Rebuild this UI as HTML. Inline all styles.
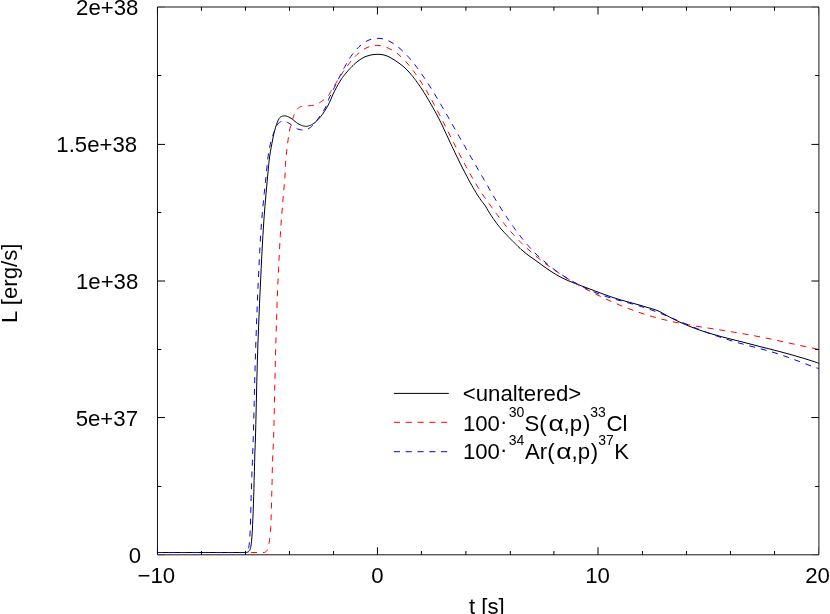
<!DOCTYPE html>
<html><head><meta charset="utf-8"><title>Luminosity</title>
<style>
html,body{margin:0;padding:0;background:#fff;}
body{width:830px;height:614px;overflow:hidden;}
svg{display:block;will-change:transform;opacity:0.999;}
text{font-family:"Liberation Sans",sans-serif;fill:#000;}
</style></head><body>
<svg width="830" height="614" viewBox="0 0 830 614">
<rect x="0" y="0" width="830" height="614" fill="#fff"/>
<!-- curves -->
<g fill="none" stroke-width="1" stroke-linejoin="round">
<path d="M157.5,552.5 L246.0,552.5 L246.9,552.3 L247.7,552.1 L248.4,551.8 L249.0,551.3 L249.6,550.6 L250.0,549.6 L250.3,548.6 L250.6,547.5 L250.9,546.2 L251.1,544.9 L251.3,543.5 L251.5,541.7 L251.9,537.0 L252.3,531.1 L252.6,524.6 L252.9,518.2 L253.2,511.2 L253.4,503.9 L253.7,496.5 L253.9,488.9 L254.1,480.3 L254.4,471.3 L254.6,462.6 L254.8,455.0 L254.9,451.1 L255.1,447.9 L255.2,444.4 L255.4,440.0 L255.8,424.4 L256.3,403.8 L256.8,381.3 L257.4,360.0 L258.0,341.0 L258.8,322.0 L259.5,303.3 L260.4,285.0 L261.2,268.2 L262.0,251.6 L262.9,235.5 L263.9,220.0 L264.9,206.6 L266.1,193.1 L267.2,181.0 L268.1,171.4 L268.4,168.0 L268.6,165.3 L268.9,162.8 L269.2,160.0 L269.7,156.1 L270.4,151.9 L271.1,147.7 L271.9,143.6 L272.6,140.0 L273.3,136.5 L274.0,133.1 L274.9,129.9 L275.6,127.2 L276.5,124.6 L277.3,122.2 L278.2,120.2 L278.8,119.1 L279.4,118.2 L280.1,117.4 L280.8,116.8 L281.6,116.4 L282.4,116.1 L283.3,116.0 L284.2,115.9 L285.0,115.9 L285.9,116.0 L286.7,116.2 L287.6,116.5 L288.7,117.0 L289.9,117.6 L291.0,118.3 L292.2,119.1 L293.6,120.2 L295.0,121.4 L296.5,122.6 L297.9,123.6 L299.1,124.3 L300.2,124.8 L301.4,125.3 L302.5,125.7 L303.5,126.0 L304.5,126.2 L305.5,126.3 L306.5,126.3 L307.5,126.2 L308.5,126.0 L309.5,125.6 L310.5,125.3 L311.6,124.7 L312.7,124.1 L313.9,123.3 L315.0,122.5 L316.4,121.2 L317.8,119.8 L319.3,118.2 L320.7,116.5 L322.5,114.3 L324.2,111.7 L325.9,109.0 L327.6,106.2 L329.4,102.6 L331.1,98.8 L332.7,94.9 L334.5,91.2 L336.3,87.8 L338.2,84.4 L340.0,81.3 L341.7,78.6 L342.6,77.4 L343.4,76.3 L344.2,75.3 L345.0,74.3 L346.0,73.1 L347.0,71.9 L348.0,70.7 L349.0,69.6 L350.0,68.5 L351.0,67.5 L352.0,66.4 L353.0,65.5 L354.0,64.5 L355.0,63.6 L356.0,62.7 L357.0,61.9 L358.0,61.1 L359.0,60.4 L360.0,59.7 L361.0,59.0 L362.0,58.4 L363.0,57.8 L364.0,57.3 L365.0,56.8 L366.0,56.4 L367.0,56.1 L368.0,55.8 L369.0,55.5 L370.0,55.2 L371.0,55.0 L372.0,54.8 L373.0,54.6 L374.0,54.5 L375.0,54.4 L376.0,54.4 L377.0,54.3 L378.0,54.3 L379.0,54.3 L380.0,54.4 L381.0,54.5 L382.0,54.6 L383.0,54.8 L384.0,55.0 L385.0,55.3 L386.0,55.6 L387.0,56.0 L388.0,56.4 L389.0,56.9 L390.0,57.4 L391.0,58.0 L392.0,58.6 L393.0,59.2 L394.0,59.8 L395.0,60.4 L396.0,61.1 L397.0,61.8 L398.0,62.5 L399.0,63.2 L400.0,63.9 L401.0,64.7 L402.0,65.4 L403.0,66.3 L404.0,67.1 L405.0,68.0 L406.0,69.0 L407.0,70.0 L408.0,71.0 L409.0,72.1 L410.0,73.2 L411.0,74.4 L412.0,75.6 L413.0,76.8 L414.0,78.1 L415.0,79.4 L416.0,80.7 L417.0,82.1 L418.0,83.5 L419.0,84.9 L420.0,86.4 L421.0,87.9 L422.0,89.4 L423.0,90.9 L424.0,92.5 L425.0,94.0 L426.0,95.7 L427.0,97.4 L428.0,99.1 L429.0,100.8 L430.0,102.5 L431.0,104.2 L432.0,106.0 L433.0,107.8 L434.0,109.6 L435.0,111.4 L436.0,113.2 L437.0,115.1 L438.0,117.0 L439.0,118.9 L440.0,120.9 L441.0,122.8 L442.0,124.9 L443.0,127.1 L444.0,129.2 L445.0,131.4 L446.0,133.5 L447.0,135.7 L448.0,137.8 L449.0,140.0 L450.0,142.1 L451.0,144.3 L452.0,146.4 L453.0,148.5 L454.0,150.6 L455.0,152.7 L456.0,154.8 L457.0,156.9 L458.0,158.9 L459.0,161.0 L460.0,163.0 L461.0,165.0 L462.0,167.0 L463.0,169.0 L464.0,170.9 L465.0,172.9 L466.0,174.8 L467.0,176.6 L468.0,178.5 L469.0,180.4 L470.0,182.2 L471.0,184.0 L472.0,185.7 L473.0,187.5 L474.0,189.2 L475.0,190.9 L476.0,192.6 L477.0,194.2 L478.0,195.8 L479.0,197.3 L480.0,198.8 L481.0,200.3 L482.0,201.6 L483.0,202.8 L484.0,204.1 L485.0,205.4 L486.0,207.0 L487.0,208.7 L488.0,210.4 L489.0,212.1 L490.0,213.7 L491.0,215.2 L492.0,216.7 L493.0,218.2 L494.0,219.6 L495.0,221.0 L496.0,222.4 L497.0,223.8 L498.0,225.1 L499.0,226.4 L500.0,227.6 L501.0,228.9 L502.0,230.0 L503.0,231.1 L504.0,232.2 L505.0,233.2 L506.0,234.3 L507.0,235.3 L508.0,236.4 L509.0,237.4 L510.0,238.5 L511.0,239.5 L512.0,240.5 L513.0,241.5 L514.0,242.5 L515.0,243.5 L516.0,244.5 L517.0,245.5 L518.0,246.5 L519.0,247.4 L520.0,248.3 L521.0,249.3 L522.0,250.1 L523.0,251.0 L524.0,251.8 L525.0,252.7 L526.0,253.5 L527.0,254.3 L528.0,255.0 L529.0,255.8 L530.0,256.5 L531.0,257.2 L532.0,257.9 L533.0,258.6 L534.0,259.3 L535.0,260.0 L536.0,260.7 L537.0,261.5 L538.0,262.2 L539.0,262.9 L540.0,263.6 L541.0,264.4 L542.0,265.1 L543.0,265.9 L544.0,266.6 L545.0,267.3 L546.0,268.0 L547.0,268.7 L548.0,269.4 L549.0,270.0 L550.0,270.7 L551.0,271.4 L552.0,272.0 L553.0,272.7 L554.0,273.3 L555.0,273.9 L556.0,274.5 L557.0,275.1 L558.0,275.6 L559.0,276.2 L560.0,276.7 L561.0,277.3 L562.0,277.8 L563.0,278.3 L564.0,278.8 L565.0,279.2 L566.0,279.7 L567.0,280.1 L568.0,280.6 L569.0,281.0 L570.0,281.4 L571.0,281.8 L572.0,282.2 L573.0,282.6 L574.0,283.0 L575.0,283.4 L576.0,283.8 L577.0,284.2 L578.0,284.5 L579.0,284.9 L580.0,285.3 L581.0,285.7 L582.0,286.1 L583.0,286.4 L584.0,286.8 L585.0,287.2 L586.0,287.6 L587.0,287.9 L588.0,288.3 L589.0,288.7 L590.0,289.1 L591.0,289.5 L592.0,289.8 L593.0,290.2 L594.0,290.6 L595.0,291.0 L596.0,291.4 L597.0,291.7 L598.0,292.1 L599.0,292.5 L600.0,292.9 L601.0,293.2 L602.0,293.6 L603.0,294.0 L604.0,294.4 L605.0,294.7 L606.0,295.1 L607.0,295.4 L608.0,295.8 L609.0,296.1 L610.0,296.5 L611.0,296.8 L612.0,297.2 L613.0,297.5 L614.0,297.8 L615.0,298.1 L616.0,298.4 L617.0,298.8 L618.0,299.1 L619.0,299.4 L620.0,299.7 L621.0,300.0 L622.0,300.3 L623.0,300.5 L624.0,300.8 L625.0,301.1 L626.0,301.4 L627.0,301.7 L628.0,301.9 L629.0,302.2 L630.0,302.5 L631.0,302.7 L632.0,303.0 L633.0,303.3 L634.0,303.6 L635.0,303.8 L636.0,304.1 L637.0,304.4 L638.0,304.7 L639.0,304.9 L640.0,305.2 L641.0,305.5 L642.0,305.8 L643.0,306.1 L644.0,306.4 L645.0,306.7 L646.0,307.0 L647.0,307.3 L648.0,307.6 L649.0,307.9 L650.0,308.1 L651.0,308.5 L652.0,308.8 L653.0,309.1 L654.0,309.4 L655.0,309.7 L656.0,310.1 L657.0,310.4 L658.0,310.9 L659.0,311.3 L660.0,311.8 L661.0,312.3 L662.0,312.9 L663.0,313.4 L664.0,314.0 L665.0,314.5 L666.0,315.1 L667.0,315.6 L668.0,316.2 L669.0,316.7 L670.0,317.3 L671.0,317.8 L672.0,318.3 L673.0,318.8 L674.0,319.3 L675.0,319.8 L676.0,320.3 L677.0,320.7 L678.0,321.2 L679.0,321.7 L680.0,322.2 L681.0,322.6 L682.0,323.1 L683.0,323.5 L684.0,324.0 L685.0,324.4 L686.0,324.8 L687.0,325.3 L688.0,325.7 L689.0,326.1 L690.0,326.5 L691.0,326.9 L692.0,327.3 L693.0,327.7 L694.0,328.0 L695.0,328.4 L696.0,328.8 L697.0,329.1 L698.0,329.5 L699.0,329.8 L700.0,330.2 L701.0,330.5 L702.0,330.9 L703.0,331.2 L704.0,331.5 L705.0,331.8 L706.0,332.2 L707.0,332.5 L708.0,332.8 L709.0,333.1 L710.0,333.4 L711.0,333.7 L712.0,334.0 L713.0,334.3 L714.0,334.6 L715.0,334.9 L716.0,335.1 L717.0,335.4 L718.0,335.7 L719.0,336.0 L720.0,336.3 L721.0,336.5 L722.0,336.8 L723.0,337.1 L724.0,337.3 L725.0,337.6 L726.0,337.8 L727.0,338.1 L728.0,338.4 L729.0,338.6 L730.0,338.9 L731.0,339.1 L732.0,339.4 L733.0,339.6 L734.0,339.9 L735.0,340.1 L736.0,340.4 L737.0,340.6 L738.0,340.9 L739.0,341.1 L740.0,341.4 L741.0,341.6 L742.0,341.9 L743.0,342.1 L744.0,342.4 L745.0,342.7 L746.0,342.9 L747.0,343.2 L748.0,343.4 L749.0,343.7 L750.0,344.0 L751.0,344.2 L752.0,344.5 L753.0,344.7 L754.0,345.0 L755.0,345.3 L756.0,345.5 L757.0,345.8 L758.0,346.1 L759.0,346.3 L760.0,346.6 L761.0,346.8 L762.0,347.1 L763.0,347.3 L764.0,347.6 L765.0,347.8 L766.0,348.1 L767.0,348.3 L768.0,348.6 L769.0,348.8 L770.0,349.1 L771.0,349.3 L772.0,349.6 L773.0,349.9 L774.0,350.1 L775.0,350.4 L776.0,350.6 L777.0,350.9 L778.0,351.1 L779.0,351.4 L780.0,351.7 L781.0,351.9 L782.0,352.2 L783.0,352.5 L784.0,352.7 L785.0,353.0 L786.0,353.3 L787.0,353.5 L788.0,353.8 L789.0,354.1 L790.0,354.4 L791.0,354.7 L792.0,354.9 L793.0,355.2 L794.0,355.5 L795.0,355.8 L796.0,356.1 L797.0,356.4 L798.0,356.7 L799.0,357.0 L800.0,357.3 L801.0,357.6 L802.0,357.8 L803.0,358.1 L804.0,358.4 L805.0,358.8 L806.0,359.1 L807.0,359.4 L808.0,359.7 L809.0,360.0 L810.0,360.3 L811.0,360.6 L812.0,361.0 L813.0,361.3 L814.0,361.6 L815.1,362.0 L816.1,362.3 L817.0,362.6 L817.5,362.8 L818.0,362.9 L818.4,363.1 L818.9,363.2" stroke="#000"/>
<path d="M157.5,552.5 L264.2,552.5 L265.0,552.2 L265.6,551.9 L266.1,551.5 L266.6,551.0 L267.1,550.3 L267.5,549.6 L267.8,548.7 L268.1,547.6 L268.7,545.2 L269.2,542.4 L269.7,539.2 L270.1,535.9 L270.5,531.8 L270.7,527.6 L270.9,523.0 L271.1,518.2 L271.3,511.4 L271.5,504.0 L271.7,496.4 L271.9,488.9 L272.1,481.4 L272.2,473.9 L272.4,466.5 L272.6,459.6 L272.8,454.7 L273.0,450.4 L273.3,445.7 L273.5,440.0 L274.0,423.7 L274.4,403.2 L274.9,381.1 L275.4,360.0 L275.9,341.0 L276.5,322.0 L277.1,303.3 L277.8,285.0 L278.6,268.2 L279.4,251.6 L280.3,235.5 L281.3,220.0 L282.4,206.6 L283.5,193.1 L284.6,181.0 L285.3,171.4 L285.5,168.0 L285.5,165.3 L285.6,162.8 L285.8,160.0 L286.1,156.1 L286.6,151.9 L287.1,147.7 L287.6,143.6 L288.1,139.8 L288.6,136.0 L289.2,132.3 L289.9,128.8 L290.6,125.9 L291.4,123.1 L292.2,120.4 L293.0,118.0 L293.6,116.4 L294.1,114.8 L294.7,113.5 L295.3,112.2 L295.8,111.3 L296.3,110.6 L296.8,109.9 L297.3,109.2 L297.8,108.6 L298.4,108.0 L299.0,107.5 L299.7,107.1 L300.6,106.7 L301.5,106.5 L302.5,106.3 L303.5,106.1 L304.7,106.0 L306.0,105.9 L307.3,105.9 L308.6,105.8 L310.0,105.7 L311.5,105.5 L312.9,105.3 L314.3,105.0 L315.6,104.6 L316.8,104.1 L318.1,103.5 L319.3,102.9 L320.6,102.1 L321.9,101.2 L323.2,100.3 L324.4,99.3 L325.5,98.4 L326.6,97.4 L327.7,96.4 L328.6,95.3 L329.4,94.1 L330.1,92.9 L330.8,91.5 L331.6,90.1 L332.9,88.0 L334.3,85.7 L335.8,83.3 L337.3,80.9 L338.8,78.5 L340.4,76.0 L341.9,73.7 L343.1,71.8 L343.6,71.0 L344.1,70.4 L344.5,69.8 L345.0,69.1 L345.9,67.9 L346.9,66.5 L348.0,65.0 L349.0,63.6 L350.0,62.3 L351.0,61.1 L352.0,59.9 L353.0,58.7 L354.0,57.6 L355.0,56.6 L356.0,55.5 L357.0,54.5 L358.0,53.7 L359.0,52.8 L360.0,52.0 L361.0,51.2 L362.0,50.5 L363.0,49.8 L364.0,49.2 L365.0,48.6 L366.0,48.1 L367.0,47.6 L368.0,47.2 L369.0,46.8 L370.0,46.5 L371.0,46.2 L372.0,45.9 L373.0,45.7 L374.0,45.6 L375.0,45.5 L376.0,45.4 L377.0,45.4 L378.0,45.4 L379.0,45.5 L380.0,45.6 L381.0,45.8 L382.0,46.0 L383.0,46.2 L384.0,46.5 L385.0,46.8 L386.0,47.2 L387.0,47.6 L388.0,48.0 L389.0,48.5 L390.0,49.0 L391.0,49.5 L392.0,50.0 L393.0,50.5 L394.0,51.2 L395.0,51.8 L396.0,52.5 L397.0,53.2 L398.0,54.0 L399.0,54.9 L400.0,55.8 L401.0,56.7 L402.0,57.7 L403.0,58.7 L404.0,59.7 L405.0,60.7 L406.0,61.8 L407.0,63.0 L408.0,64.1 L409.0,65.3 L410.0,66.5 L411.0,67.8 L412.0,69.1 L413.0,70.4 L414.0,71.7 L415.0,73.1 L416.0,74.5 L417.0,75.9 L418.0,77.4 L419.0,78.9 L420.0,80.4 L421.0,82.0 L422.0,83.6 L423.0,85.2 L424.0,86.8 L425.0,88.4 L426.0,90.1 L427.0,91.8 L428.0,93.5 L429.0,95.3 L430.0,97.1 L431.0,98.8 L432.0,100.6 L433.0,102.5 L434.0,104.3 L435.0,106.2 L436.0,108.1 L437.0,109.9 L438.0,111.9 L439.0,113.8 L440.0,115.7 L441.0,117.7 L442.0,119.6 L443.0,121.6 L444.0,123.5 L445.0,125.5 L446.0,127.5 L447.0,129.5 L448.0,131.5 L449.0,133.5 L450.0,135.4 L451.0,137.4 L452.0,139.4 L453.0,141.4 L454.0,143.4 L455.0,145.3 L456.0,147.3 L457.0,149.3 L458.0,151.2 L459.0,153.1 L460.0,155.1 L461.0,157.0 L462.0,158.9 L463.0,160.8 L464.0,162.7 L465.0,164.6 L466.0,166.4 L467.0,168.2 L468.0,170.1 L469.0,171.9 L470.0,173.7 L471.0,175.4 L472.0,177.2 L473.0,178.9 L474.0,180.6 L475.0,182.4 L476.0,184.0 L477.0,185.7 L478.0,187.3 L479.0,188.9 L480.0,190.5 L481.0,192.1 L482.0,193.6 L483.0,195.0 L484.0,196.5 L485.0,197.9 L486.0,199.3 L487.0,200.7 L488.0,202.1 L489.0,203.5 L490.0,204.9 L491.0,206.3 L492.0,207.7 L493.0,209.1 L494.0,210.5 L495.0,211.8 L496.0,213.2 L497.0,214.5 L498.0,215.8 L499.0,217.1 L500.0,218.4 L501.0,219.7 L502.0,221.0 L503.0,222.3 L504.0,223.5 L505.0,224.8 L506.0,226.0 L507.0,227.2 L508.0,228.4 L509.0,229.6 L510.0,230.7 L511.0,231.9 L512.0,233.0 L513.0,234.1 L514.0,235.2 L515.0,236.3 L516.0,237.4 L517.0,238.5 L518.0,239.5 L519.0,240.6 L520.0,241.6 L521.0,242.6 L522.0,243.6 L523.0,244.6 L524.0,245.5 L525.0,246.5 L526.0,247.4 L527.0,248.3 L528.0,249.2 L529.0,250.1 L530.0,251.0 L531.0,251.9 L532.0,252.8 L533.0,253.6 L534.0,254.5 L535.0,255.3 L536.0,256.2 L537.0,257.0 L538.0,257.8 L539.0,258.6 L540.0,259.4 L541.0,260.2 L542.0,261.0 L543.0,261.8 L544.0,262.6 L545.0,263.3 L546.0,264.1 L547.0,264.8 L548.0,265.5 L549.0,266.3 L550.0,267.0 L551.0,267.7 L552.0,268.4 L553.0,269.1 L554.0,269.8 L555.0,270.5 L556.0,271.2 L557.0,271.9 L558.0,272.5 L559.0,273.2 L560.0,273.9 L561.0,274.5 L562.0,275.1 L563.0,275.8 L564.0,276.4 L565.0,277.0 L566.0,277.7 L567.0,278.3 L568.0,278.9 L569.0,279.5 L570.0,280.1 L571.0,280.7 L572.0,281.3 L573.0,281.9 L574.0,282.5 L575.0,283.1 L576.0,283.6 L577.0,284.2 L578.0,284.8 L579.0,285.3 L580.0,285.9 L581.0,286.4 L582.0,287.0 L583.0,287.5 L584.0,288.1 L585.0,288.6 L586.0,289.1 L587.0,289.7 L588.0,290.2 L589.0,290.7 L590.0,291.2 L591.0,291.7 L592.0,292.3 L593.0,292.8 L594.0,293.3 L595.0,293.8 L596.0,294.3 L597.0,294.8 L598.0,295.2 L599.0,295.7 L600.0,296.2 L601.0,296.7 L602.0,297.2 L603.0,297.6 L604.0,298.1 L605.0,298.6 L606.0,299.0 L607.0,299.5 L608.0,300.0 L609.0,300.4 L610.0,300.9 L611.0,301.3 L612.0,301.8 L613.0,302.2 L614.0,302.6 L615.0,303.1 L616.0,303.5 L617.0,303.9 L618.0,304.3 L619.0,304.8 L620.0,305.2 L621.0,305.6 L622.0,306.0 L623.0,306.4 L624.0,306.8 L625.0,307.2 L626.0,307.6 L627.0,308.0 L628.0,308.4 L629.0,308.8 L630.0,309.1 L631.0,309.5 L632.0,309.9 L633.0,310.2 L634.0,310.6 L635.0,311.0 L636.0,311.3 L637.0,311.7 L638.0,312.0 L639.0,312.4 L640.0,312.7 L641.0,313.0 L642.0,313.4 L643.0,313.7 L644.0,314.0 L645.0,314.3 L646.0,314.7 L647.0,315.0 L648.0,315.3 L649.0,315.6 L650.0,315.9 L651.0,316.2 L652.0,316.5 L653.0,316.8 L654.0,317.0 L655.0,317.3 L656.0,317.6 L657.0,317.9 L658.0,318.1 L659.0,318.4 L660.0,318.7 L661.0,318.9 L662.0,319.2 L663.0,319.4 L664.0,319.7 L665.0,319.9 L666.0,320.2 L667.0,320.4 L668.0,320.6 L669.0,320.9 L670.0,321.1 L671.0,321.3 L672.0,321.5 L673.0,321.8 L674.0,322.0 L675.0,322.2 L676.0,322.4 L677.0,322.6 L678.0,322.8 L679.0,323.0 L680.0,323.2 L681.0,323.4 L682.0,323.6 L683.0,323.8 L684.0,324.0 L685.0,324.2 L686.0,324.3 L687.0,324.5 L688.0,324.7 L689.0,324.9 L690.0,325.1 L691.0,325.2 L692.0,325.4 L693.0,325.6 L694.0,325.7 L695.0,325.9 L696.0,326.1 L697.0,326.3 L698.0,326.4 L699.0,326.6 L700.0,326.7 L701.0,326.9 L702.0,327.1 L703.0,327.2 L704.0,327.4 L705.0,327.5 L706.0,327.7 L707.0,327.9 L708.0,328.0 L709.0,328.2 L710.0,328.3 L711.0,328.5 L712.0,328.6 L713.0,328.8 L714.0,329.0 L715.0,329.1 L716.0,329.3 L717.0,329.4 L718.0,329.6 L719.0,329.7 L720.0,329.9 L721.0,330.1 L722.0,330.2 L723.0,330.4 L724.0,330.5 L725.0,330.7 L726.0,330.9 L727.0,331.0 L728.0,331.2 L729.0,331.4 L730.0,331.5 L731.0,331.7 L732.0,331.8 L733.0,332.0 L734.0,332.2 L735.0,332.3 L736.0,332.5 L737.0,332.7 L738.0,332.9 L739.0,333.0 L740.0,333.2 L741.0,333.4 L742.0,333.6 L743.0,333.7 L744.0,333.9 L745.0,334.1 L746.0,334.3 L747.0,334.4 L748.0,334.6 L749.0,334.8 L750.0,335.0 L751.0,335.2 L752.0,335.4 L753.0,335.6 L754.0,335.7 L755.0,335.9 L756.0,336.1 L757.0,336.3 L758.0,336.5 L759.0,336.7 L760.0,336.9 L761.0,337.1 L762.0,337.3 L763.0,337.5 L764.0,337.7 L765.0,337.9 L766.0,338.1 L767.0,338.3 L768.0,338.5 L769.0,338.7 L770.0,338.9 L771.0,339.1 L772.0,339.3 L773.0,339.6 L774.0,339.8 L775.0,340.0 L776.0,340.2 L777.0,340.4 L778.0,340.6 L779.0,340.8 L780.0,341.0 L781.0,341.3 L782.0,341.5 L783.0,341.7 L784.0,341.9 L785.0,342.1 L786.0,342.4 L787.0,342.6 L788.0,342.8 L789.0,343.0 L790.0,343.2 L791.0,343.5 L792.0,343.7 L793.0,343.9 L794.0,344.1 L795.0,344.3 L796.0,344.6 L797.0,344.8 L798.0,345.0 L799.0,345.2 L800.0,345.4 L801.0,345.7 L802.0,345.9 L803.0,346.1 L804.0,346.3 L805.0,346.5 L806.0,346.7 L807.0,347.0 L808.0,347.2 L809.0,347.4 L810.0,347.6 L811.0,347.8 L812.0,348.0 L813.0,348.2 L814.0,348.4 L815.1,348.6 L816.1,348.9 L817.0,349.0 L817.5,349.1 L818.0,349.2 L818.4,349.3 L818.9,349.4" stroke="#ff0000" stroke-dasharray="6 5.8" stroke-dashoffset="0.8"/>
<path d="M157.5,552.5 L245.6,552.5 L246.3,552.2 L246.9,551.7 L247.4,551.1 L247.8,550.5 L248.2,549.5 L248.5,548.4 L248.8,547.1 L249.0,545.6 L249.4,542.8 L249.6,539.6 L249.9,536.0 L250.1,532.0 L250.4,524.7 L250.7,516.1 L250.9,507.2 L251.1,498.7 L251.3,491.2 L251.6,483.9 L251.8,476.6 L252.1,469.3 L252.4,462.3 L252.6,455.5 L252.9,448.3 L253.2,440.0 L253.7,422.7 L254.2,402.3 L254.7,380.7 L255.3,360.0 L255.9,341.0 L256.6,322.0 L257.3,303.3 L258.1,285.0 L258.9,268.2 L259.7,251.6 L260.6,235.5 L261.7,220.0 L262.9,206.7 L264.2,193.6 L265.5,181.6 L266.5,171.4 L267.0,166.7 L267.4,162.6 L267.8,158.8 L268.3,155.0 L268.8,151.4 L269.5,148.0 L270.2,144.6 L271.0,141.3 L271.9,138.3 L272.8,135.4 L273.8,132.6 L274.9,130.0 L275.6,128.2 L276.4,126.4 L277.2,124.9 L278.2,123.6 L279.3,122.6 L280.5,121.8 L281.8,121.3 L283.1,121.0 L284.5,121.1 L286.0,121.6 L287.4,122.4 L288.8,123.1 L290.0,123.9 L291.1,124.8 L292.1,125.7 L293.3,126.5 L294.7,127.3 L296.1,128.1 L297.5,128.9 L299.0,129.4 L300.4,129.7 L301.9,130.0 L303.4,130.0 L304.8,129.9 L306.3,129.5 L307.7,129.0 L309.2,128.3 L310.5,127.4 L311.7,126.5 L312.8,125.3 L313.9,124.1 L315.0,122.8 L316.4,121.0 L317.9,119.0 L319.3,117.0 L320.7,114.9 L322.2,112.7 L323.8,110.3 L325.2,108.0 L326.4,105.7 L327.1,104.1 L327.6,102.5 L328.1,101.0 L328.7,99.2 L329.9,96.5 L331.4,93.5 L332.9,90.3 L334.5,87.2 L336.3,83.4 L338.2,79.5 L340.1,75.8 L341.7,72.5 L342.6,70.8 L343.4,69.2 L344.2,67.8 L345.0,66.3 L346.0,64.5 L347.0,62.8 L348.0,61.0 L349.0,59.3 L350.0,57.8 L351.0,56.3 L352.0,54.9 L353.0,53.5 L354.0,52.2 L355.0,51.1 L356.0,49.9 L357.0,48.8 L358.0,47.8 L359.0,46.8 L360.0,45.9 L361.0,45.0 L362.0,44.2 L363.0,43.4 L364.0,42.7 L365.0,42.1 L366.0,41.5 L367.0,40.9 L368.0,40.5 L369.0,40.0 L370.0,39.6 L371.0,39.3 L372.0,39.0 L373.0,38.8 L374.0,38.6 L375.0,38.4 L376.0,38.3 L377.0,38.3 L378.0,38.3 L379.0,38.3 L380.0,38.4 L381.0,38.5 L382.0,38.7 L383.0,38.9 L384.0,39.2 L385.0,39.5 L386.0,39.8 L387.0,40.2 L388.0,40.6 L389.0,41.1 L390.0,41.6 L391.0,42.1 L392.0,42.7 L393.0,43.3 L394.0,44.0 L395.0,44.6 L396.0,45.4 L397.0,46.1 L398.0,46.9 L399.0,47.7 L400.0,48.6 L401.0,49.5 L402.0,50.4 L403.0,51.3 L404.0,52.3 L405.0,53.3 L406.0,54.4 L407.0,55.4 L408.0,56.5 L409.0,57.6 L410.0,58.8 L411.0,60.0 L412.0,61.2 L413.0,62.4 L414.0,63.7 L415.0,64.9 L416.0,66.2 L417.0,67.5 L418.0,68.9 L419.0,70.3 L420.0,71.7 L421.0,73.1 L422.0,74.5 L423.0,76.0 L424.0,77.4 L425.0,78.9 L426.0,80.4 L427.0,81.9 L428.0,83.5 L429.0,85.0 L430.0,86.6 L431.0,88.2 L432.0,89.8 L433.0,91.4 L434.0,93.0 L435.0,94.7 L436.0,96.3 L437.0,98.0 L438.0,99.7 L439.0,101.4 L440.0,103.1 L441.0,104.8 L442.0,106.5 L443.0,108.2 L444.0,109.9 L445.0,111.7 L446.0,113.4 L447.0,115.1 L448.0,116.9 L449.0,118.6 L450.0,120.4 L451.0,122.1 L452.0,123.9 L453.0,125.7 L454.0,127.4 L455.0,129.2 L456.0,130.9 L457.0,132.7 L458.0,134.4 L459.0,136.2 L460.0,138.0 L461.0,139.7 L462.0,141.5 L463.0,143.2 L464.0,145.0 L465.0,146.7 L466.0,148.5 L467.0,150.2 L468.0,152.0 L469.0,153.7 L470.0,155.4 L471.0,157.2 L472.0,158.9 L473.0,160.6 L474.0,162.4 L475.0,164.1 L476.0,165.8 L477.0,167.6 L478.0,169.3 L479.0,171.0 L480.0,172.7 L481.0,174.5 L482.0,176.2 L483.0,177.9 L484.0,179.6 L485.0,181.3 L486.0,183.1 L487.0,184.8 L488.0,186.6 L489.0,188.4 L490.0,190.1 L491.0,191.9 L492.0,193.6 L493.0,195.4 L494.0,197.0 L495.0,198.7 L496.0,200.4 L497.0,202.1 L498.0,203.7 L499.0,205.3 L500.0,206.9 L501.0,208.4 L502.0,210.0 L503.0,211.6 L504.0,213.1 L505.0,214.6 L506.0,216.1 L507.0,217.6 L508.0,219.1 L509.0,220.6 L510.0,222.1 L511.0,223.5 L512.0,224.9 L513.0,226.3 L514.0,227.7 L515.0,229.1 L516.0,230.5 L517.0,231.8 L518.0,233.1 L519.0,234.4 L520.0,235.7 L521.0,237.0 L522.0,238.3 L523.0,239.5 L524.0,240.7 L525.0,241.9 L526.0,243.1 L527.0,244.3 L528.0,245.4 L529.0,246.6 L530.0,247.7 L531.0,248.8 L532.0,249.9 L533.0,250.9 L534.0,252.0 L535.0,253.0 L536.0,254.0 L537.0,254.9 L538.0,255.9 L539.0,256.8 L540.0,257.7 L541.0,258.6 L542.0,259.5 L543.0,260.3 L544.0,261.2 L545.0,262.0 L546.0,262.9 L547.0,263.7 L548.0,264.6 L549.0,265.4 L550.0,266.2 L551.0,267.0 L552.0,267.8 L553.0,268.5 L554.0,269.3 L555.0,270.0 L556.0,270.7 L557.0,271.5 L558.0,272.2 L559.0,272.9 L560.0,273.6 L561.0,274.2 L562.0,274.9 L563.0,275.5 L564.0,276.2 L565.0,276.8 L566.0,277.5 L567.0,278.1 L568.0,278.7 L569.0,279.3 L570.0,279.9 L571.0,280.5 L572.0,281.0 L573.0,281.6 L574.0,282.2 L575.0,282.7 L576.0,283.3 L577.0,283.8 L578.0,284.3 L579.0,284.9 L580.0,285.4 L581.0,285.9 L582.0,286.4 L583.0,286.9 L584.0,287.4 L585.0,287.9 L586.0,288.4 L587.0,288.8 L588.0,289.3 L589.0,289.8 L590.0,290.2 L591.0,290.6 L592.0,291.1 L593.0,291.5 L594.0,291.9 L595.0,292.4 L596.0,292.8 L597.0,293.2 L598.0,293.6 L599.0,293.9 L600.0,294.3 L601.0,294.7 L602.0,295.1 L603.0,295.4 L604.0,295.8 L605.0,296.1 L606.0,296.5 L607.0,296.8 L608.0,297.1 L609.0,297.4 L610.0,297.7 L611.0,298.1 L612.0,298.4 L613.0,298.7 L614.0,298.9 L615.0,299.2 L616.0,299.5 L617.0,299.8 L618.0,300.1 L619.0,300.4 L620.0,300.6 L621.0,300.9 L622.0,301.2 L623.0,301.4 L624.0,301.7 L625.0,302.0 L626.0,302.2 L627.0,302.5 L628.0,302.8 L629.0,303.0 L630.0,303.3 L631.0,303.6 L632.0,303.9 L633.0,304.1 L634.0,304.4 L635.0,304.7 L636.0,305.0 L637.0,305.3 L638.0,305.6 L639.0,305.9 L640.0,306.2 L641.0,306.5 L642.0,306.8 L643.0,307.1 L644.0,307.4 L645.0,307.7 L646.0,308.1 L647.0,308.4 L648.0,308.8 L649.0,309.1 L650.0,309.4 L651.0,309.8 L652.0,310.2 L653.0,310.5 L654.0,310.9 L655.0,311.3 L656.0,311.6 L657.0,312.0 L658.0,312.4 L659.0,312.8 L660.0,313.2 L661.0,313.6 L662.0,314.0 L663.0,314.4 L664.0,314.8 L665.0,315.2 L666.0,315.6 L667.0,316.0 L668.0,316.4 L669.0,316.8 L670.0,317.2 L671.0,317.7 L672.0,318.1 L673.0,318.5 L674.0,318.9 L675.0,319.3 L676.0,319.8 L677.0,320.2 L678.0,320.6 L679.0,321.0 L680.0,321.5 L681.0,321.9 L682.0,322.3 L683.0,322.7 L684.0,323.2 L685.0,323.6 L686.0,324.0 L687.0,324.4 L688.0,324.9 L689.0,325.3 L690.0,325.7 L691.0,326.1 L692.0,326.5 L693.0,326.9 L694.0,327.4 L695.0,327.8 L696.0,328.2 L697.0,328.6 L698.0,329.0 L699.0,329.4 L700.0,329.8 L701.0,330.2 L702.0,330.6 L703.0,331.0 L704.0,331.3 L705.0,331.7 L706.0,332.1 L707.0,332.5 L708.0,332.9 L709.0,333.2 L710.0,333.6 L711.0,334.0 L712.0,334.3 L713.0,334.7 L714.0,335.1 L715.0,335.4 L716.0,335.8 L717.0,336.1 L718.0,336.4 L719.0,336.8 L720.0,337.1 L721.0,337.5 L722.0,337.8 L723.0,338.1 L724.0,338.4 L725.0,338.8 L726.0,339.1 L727.0,339.4 L728.0,339.7 L729.0,340.0 L730.0,340.3 L731.0,340.6 L732.0,340.9 L733.0,341.2 L734.0,341.5 L735.0,341.8 L736.0,342.1 L737.0,342.4 L738.0,342.7 L739.0,343.0 L740.0,343.3 L741.0,343.5 L742.0,343.8 L743.0,344.1 L744.0,344.4 L745.0,344.6 L746.0,344.9 L747.0,345.2 L748.0,345.4 L749.0,345.7 L750.0,346.0 L751.0,346.2 L752.0,346.5 L753.0,346.8 L754.0,347.0 L755.0,347.3 L756.0,347.6 L757.0,347.8 L758.0,348.1 L759.0,348.4 L760.0,348.6 L761.0,348.9 L762.0,349.2 L763.0,349.5 L764.0,349.7 L765.0,350.0 L766.0,350.3 L767.0,350.6 L768.0,350.9 L769.0,351.1 L770.0,351.4 L771.0,351.7 L772.0,352.0 L773.0,352.3 L774.0,352.6 L775.0,352.9 L776.0,353.2 L777.0,353.5 L778.0,353.9 L779.0,354.2 L780.0,354.5 L781.0,354.8 L782.0,355.2 L783.0,355.5 L784.0,355.9 L785.0,356.2 L786.0,356.6 L787.0,356.9 L788.0,357.3 L789.0,357.7 L790.0,358.0 L791.0,358.4 L792.0,358.8 L793.0,359.1 L794.0,359.5 L795.0,359.9 L796.0,360.3 L797.0,360.6 L798.0,361.0 L799.0,361.4 L800.0,361.8 L801.0,362.1 L802.0,362.5 L803.0,362.9 L804.0,363.3 L805.0,363.7 L806.0,364.0 L807.0,364.4 L808.0,364.8 L809.0,365.2 L810.0,365.5 L811.0,365.9 L812.0,366.2 L813.0,366.6 L814.0,367.0 L815.1,367.3 L816.1,367.7 L817.0,368.0 L817.5,368.1 L818.0,368.3 L818.4,368.4 L818.9,368.6" stroke="#0000ff" stroke-dasharray="6 5.8" stroke-dashoffset="0.8"/>
</g>
<!-- frame + ticks -->
<g fill="none" stroke="#000" stroke-width="1">
<path d="M157.5,7.0 H818.9 V554.8 H157.5 Z" stroke-width="0.92"/>
<path d="M201.45,554.8 v-3.8 M201.45,7.0 v3.8 M245.45,554.8 v-3.8 M245.45,7.0 v3.8 M289.50,554.8 v-3.8 M289.50,7.0 v3.8 M333.50,554.8 v-3.8 M333.50,7.0 v3.8 M377.45,554.8 v-7.5 M377.45,7.0 v7.5 M421.40,554.8 v-3.8 M421.40,7.0 v3.8 M465.90,554.8 v-3.8 M465.90,7.0 v3.8 M510.30,554.8 v-3.8 M510.30,7.0 v3.8 M553.90,554.8 v-3.8 M553.90,7.0 v3.8 M598.00,554.8 v-7.5 M598.00,7.0 v7.5 M642.45,554.8 v-3.8 M642.45,7.0 v3.8 M686.45,554.8 v-3.8 M686.45,7.0 v3.8 M730.50,554.8 v-3.8 M730.50,7.0 v3.8 M774.50,554.8 v-3.8 M774.50,7.0 v3.8 M157.5,486.45 h3.8 M818.9,486.45 h-3.8 M157.5,417.55 h7.5 M818.9,417.55 h-7.5 M157.5,349.50 h3.8 M818.9,349.50 h-3.8 M157.5,281.00 h7.5 M818.9,281.00 h-7.5 M157.5,212.45 h3.8 M818.9,212.45 h-3.8 M157.5,144.40 h7.5 M818.9,144.40 h-7.5 M157.5,75.50 h3.8 M818.9,75.50 h-3.8"/>
<path d="M157.30,554.8 v-7.5 M157.30,7.0 v7.5 M818.60,554.8 v-7.5 M818.60,7.0 v7.5 M157.5,554.80 h7.5 M818.9,554.80 h-7.5 M157.5,7.00 h7.5 M818.9,7.00 h-7.5" stroke-opacity="0.3"/>
</g>
<!-- y tick labels -->
<g font-size="22.2" text-anchor="end">
<text x="138.4" y="14.9">2e+38</text>
<text x="137.2" y="151.9">1.5e+38</text>
<text x="138.3" y="288.6">1e+38</text>
<text x="138" y="425.6">5e+37</text>
<text x="141.1" y="562.5">0</text>
</g>
<!-- x tick labels -->
<g font-size="22.2" text-anchor="middle">
<text x="156.4" y="582.5">−10</text>
<text x="377.3" y="582.5">0</text>
<text x="597.5" y="582.5">10</text>
<text x="817.5" y="582.5">20</text>
</g>
<!-- axis labels -->
<text font-size="22.2" x="469" y="614.2">t [s]</text>
<text font-size="22.2" transform="translate(17.0,322.9) rotate(-90)">L [erg/s]</text>
<!-- legend -->
<g fill="none" stroke-width="1">
<path d="M393.9,393.4 H448.8" stroke="#000"/>
<path d="M393.9,422.3 H448.8" stroke="#ff0000" stroke-dasharray="6.1 5.7"/>
<path d="M393.9,451.7 H448.8" stroke="#0000ff" stroke-dasharray="6.1 5.7"/>
</g>
<g font-size="22.2">
<text x="462.8" y="401">&lt;unaltered&gt;</text>
<text x="462.9" y="430.5">100</text>
<text x="500.1" y="428.6">·</text>
<text x="508.7" y="416.6" font-size="14">30</text>
<text x="524.5" y="430.5">S(</text>
<text transform="translate(548.5,430.5) scale(1.2,1)">α</text>
<text x="563.5" y="430.5">,p</text>
<text x="583.1" y="430.5">)</text>
<text x="590.3" y="416.6" font-size="14">33</text>
<text x="606.4" y="430.5">Cl</text>
<text x="462.9" y="459.1">100</text>
<text x="500.1" y="457.2">·</text>
<text x="508.7" y="445.2" font-size="14">34</text>
<text x="525.0" y="459.1">Ar(</text>
<text transform="translate(556.2,459.1) scale(1.2,1)">α</text>
<text x="571.5" y="459.1">,p</text>
<text x="590.7" y="459.1">)</text>
<text x="598.3" y="445.2" font-size="14">37</text>
<text x="614.3" y="459.1">K</text>
</g>
</svg>
</body></html>
